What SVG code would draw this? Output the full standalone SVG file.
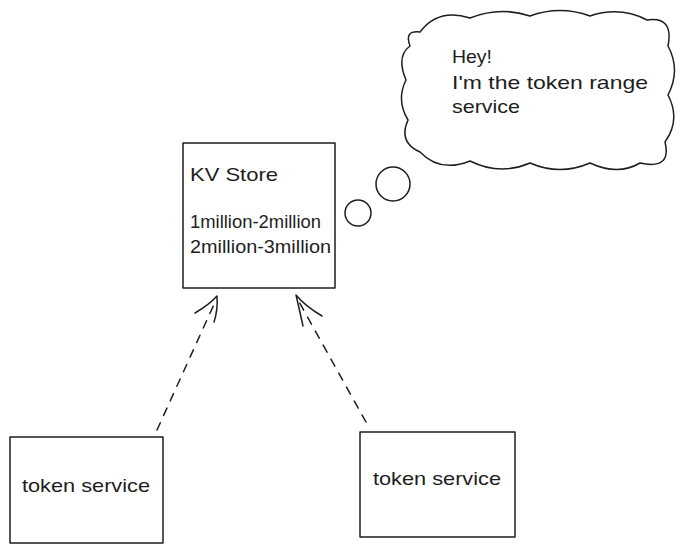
<svg xmlns="http://www.w3.org/2000/svg" width="684" height="552" viewBox="0 0 684 552">
<style>
.box{fill:none;stroke:#1e1e1e;stroke-width:1.5;stroke-linejoin:round}
.t{font-family:"Liberation Sans","Noto Sans",sans-serif;font-size:18.5px;fill:#1e1e1e}
.dash{fill:none;stroke:#1e1e1e;stroke-width:1.5;stroke-dasharray:8 8;stroke-linecap:round}
.head{fill:none;stroke:#1e1e1e;stroke-width:1.5;stroke-linecap:round;stroke-linejoin:round}
</style>
<rect width="684" height="552" fill="#ffffff"/>
<g id="kv-store">
<rect class="box" x="183" y="143" width="152" height="145"/>
<text class="t" x="190" y="181" textLength="88" lengthAdjust="spacingAndGlyphs">KV Store</text>
<text class="t" x="190" y="228" textLength="131" lengthAdjust="spacingAndGlyphs">1million-2million</text>
<text class="t" x="190" y="253" textLength="141" lengthAdjust="spacingAndGlyphs">2million-3million</text>
</g>
<g id="thought-cloud">
<path class="box" d="M420,32 Q438,8 470,18 Q500,6 530,16 Q560,5 590,16 Q620,6 647,20 Q674,16 668,46 Q681,70 668,95 Q681,120 665,142 Q672,170 640,163 Q618,176 590,163 Q560,176 530,163 Q500,176 470,161 Q440,173 420,152 Q398,142 408,120 Q396,100 406,80 Q396,56 410,46 Q404,30 420,32 Z"/>
<circle class="box" cx="393" cy="184" r="17"/>
<circle class="box" cx="358" cy="213" r="13"/>
<text class="t" x="452" y="63" textLength="40" lengthAdjust="spacingAndGlyphs">Hey!</text>
<text class="t" x="452" y="89" textLength="196" lengthAdjust="spacingAndGlyphs">I'm the token range</text>
<text class="t" x="452" y="113" textLength="68" lengthAdjust="spacingAndGlyphs">service</text>
</g>
<g id="token-service-1">
<rect class="box" x="10" y="437" width="153" height="106"/>
<text class="t" x="22" y="492" textLength="128" lengthAdjust="spacingAndGlyphs">token service</text>
</g>
<g id="token-service-2">
<rect class="box" x="360" y="432" width="155" height="105"/>
<text class="t" x="373" y="485" textLength="128" lengthAdjust="spacingAndGlyphs">token service</text>
</g>
<g id="connectors">
<path class="dash" d="M157,430 L216,300"/>
<path class="head" d="M195,313 Q210,304 217,296 Q218,310 214,322"/>
<path class="dash" d="M366,422 L298,300"/>
<path class="head" d="M322,316 Q305,306 296,295 Q300,312 303,326"/>
</g>
</svg>
